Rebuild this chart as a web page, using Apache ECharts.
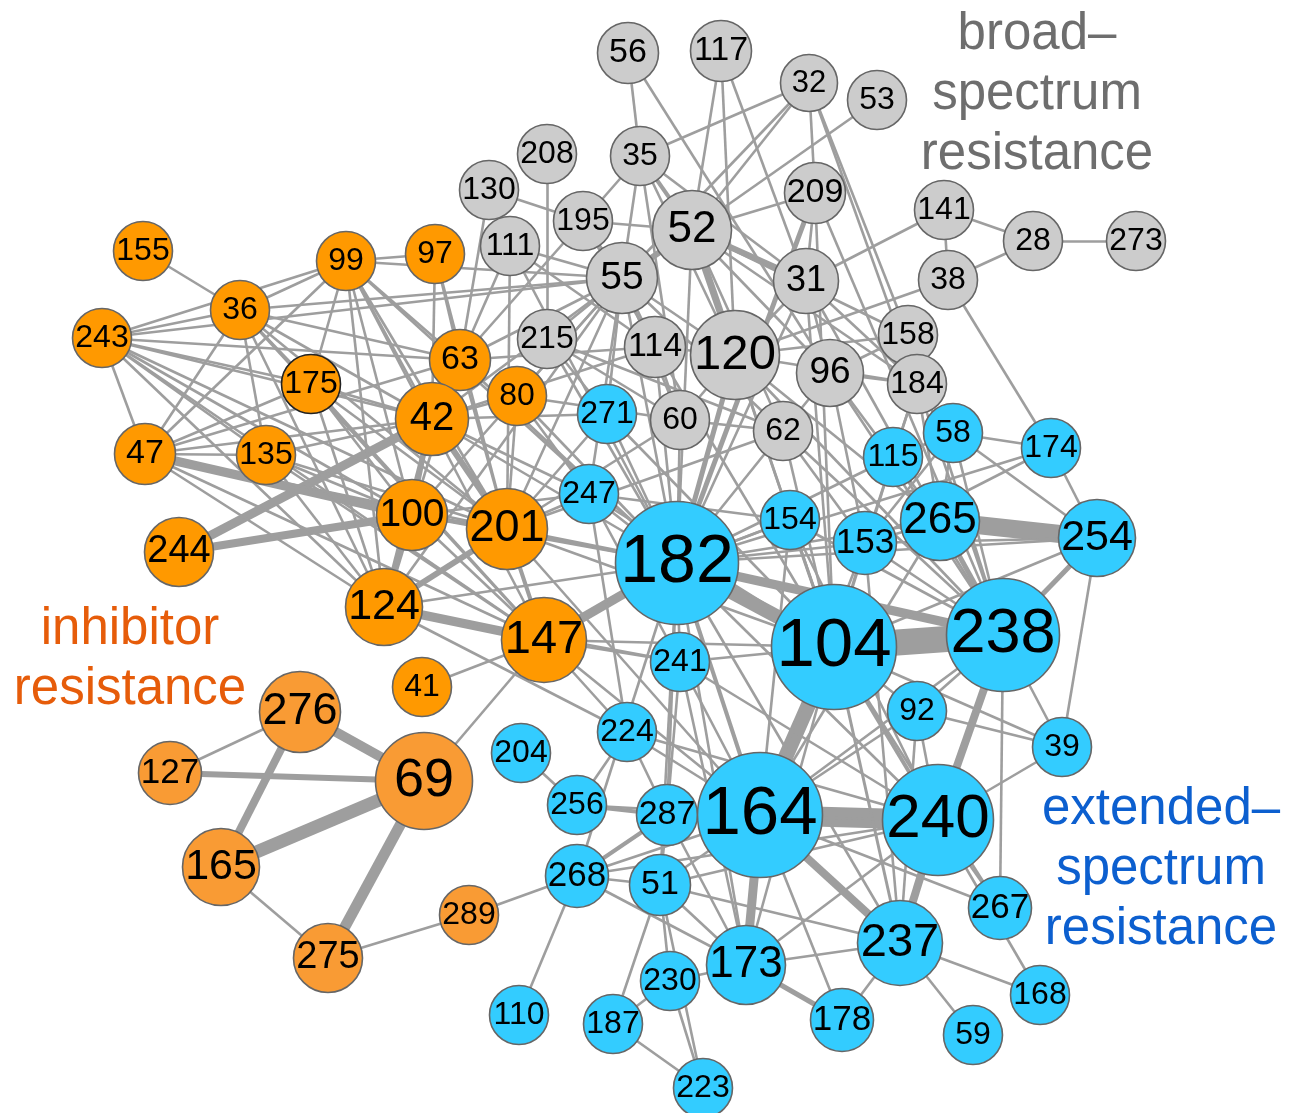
<!DOCTYPE html>
<html><head><meta charset="utf-8">
<script src="https://cdn.jsdelivr.net/npm/echarts@6/dist/echarts.min.js"></script>
<style>html,body{margin:0;padding:0;background:#fff}#c{width:1299px;height:1113px}</style>
</head><body><div id="c"></div>
<script>
// ---- node data (group: broad / inhibitor / inhibitor2 / extended) ----
const grayIds = ['56','117','32','53','35','208','130','195','111','52','209','141','28','273','55','31','38','215','114','120','158','96','184','60','62'];
const grayX = [628,721,809,877,640,547,489,583,510,692,815,944,1033,1136,622,806,948,547,655,735,908,830,917,680,783];
const grayY = [50,48,80,97,153,151,187,218,243,227,190,207,238,238,275,278,277,336,344,352,332,370,381,417,428];
const grayR = [30,30,28,29,29,29,29,29,29,39,30,29,29,29,35,32,29,29,30,44,29,33,29,29,29];

const orangeIds = ['155','36','99','97','243','175','63','80','42','47','135','100','201','244','124','147','41'];
const orangeX = [143,240,346,435,102,311,460,517,432,145,266,412,507,179,384,544,422];
const orangeY = [248,307,258,251,335,381,357,393,416,451,452,512,526,549,604,637,684];
const orangeR = [29,29,29,29,29,29,30,29,36,30,29,35,40,34,38,42,29];

const orange2Ids = ['276','127','69','165','289','275'];
const orange2X = [300,170,424,221,469,328];
const orange2Y = [709,770,778,864,912,955];
const orange2R = [40,31,48,38,29,34];

const blueIds = ['271','247','182','115','58','174','154','153','265','254','104','238','241','92','39','224','204','256','287','164','240','268','51','267','237','173','230','168','110','187','178','59','223'];
const blueX = [607,589,677,893,953,1051,790,865,940,1097,834,1003,680,917,1062,627,521,577,667,760,938,577,660,1000,900,746,670,1040,519,613,842,973,703];
const blueY = [411,491,560,454,430,445,517,540,518,535,644,632,659,708,744,729,750,802,812,812,817,873,882,905,940,962,978,992,1012,1021,1017,1032,1085];
const blueR = [29,29,61,29,29,29,29,31,39,38,62,56,29,29,29,29,29,29,30,62,55,31,30,31,42,39,29,29,29,29,31,29,29];

// ---- edges: thick weighted ones, then thin ----
const thickEdges = [
 ['104','238',26],['164','240',20],['265','254',18],['182','104',14],['104','164',15],['182','238',9],
 ['69','165',13],['69','276',10],['69','275',11],['276','165',8],['127','69',6],
 ['244','100',8],['244','42',9],['47','100',9],['124','147',9],['147','182',9],
 ['52','120',7],['55','52',6],['52','31',6],['209','182',5],['120','182',5],
 ['164','173',9],['240','238',8],['240','237',8],['164','237',8],['173','178',5],['238','254',5],['265','238',5],
 ['100','124',6],['201','124',6],['42','201',6],['42','124',5],['201','182',4],['147','201',4],['268','287',4],['256','287',4],
 ['35','52',4],['104','240',4],['182','164',4],['104','237',3],['100','201',4],['42','100',3]
];
const thinEdges = [
 '155-36','243-36','243-99','243-175','243-42','243-100','243-201','243-63','243-124','243-147','243-47','243-55','243-135',
 '36-99','36-63','36-42','36-175','36-201','36-124','36-47','36-135','36-55','36-147',
 '47-99','47-175','47-42','47-63','47-201','47-124','47-135','47-147',
 '135-201','135-124','135-42','135-100','135-147',
 '175-99','175-124','175-147','175-201','175-42','175-100',
 '99-97','99-42','99-63','99-201','99-100','99-124','99-147','99-55','99-182',
 '97-63','97-42','97-201',
 '130-195','130-63','111-63','111-201','111-55','111-182',
 '208-215','195-55','195-35','195-52','195-63',
 '55-63','55-42','55-100','55-201','55-215','55-114','55-182','55-271','55-247','55-35','55-80','55-124',
 '56-35','56-96','35-32','35-31','35-120',
 '117-52','117-31','117-120',
 '32-52','32-209','32-184','32-158','32-55',
 '53-52','209-52','209-31','209-104',
 '141-38','141-28','141-31','28-273','28-38','38-120','38-174',
 '158-120','158-96','158-52','158-238',
 '184-120','184-96','184-115','184-31','184-52','184-265','184-238',
 '58-174','58-265','58-238','58-153','58-115','58-254',
 '174-254','174-153','174-182',
 '254-39','254-104','254-182','254-153',
 '238-92','238-39','238-164','238-153','238-154','238-115','238-267',
 '92-39','240-39','104-39','164-92','104-92','164-267','240-267','237-168','237-59','164-178','173-240','173-237','92-237',
 '147-224','147-69','41-147','247-224','224-287','224-164','224-256','241-287','241-164','182-287','182-51','182-173','287-164','287-173',
 '268-164','268-51','268-289','268-110','268-182','204-256','51-230','51-187','51-223','230-187','230-223','187-223','51-173','51-240','289-275','165-275',
 '127-276','120-104','120-238','120-265','52-104','31-104','31-265','96-265','96-238','96-153','62-104','62-182','62-153','62-238','60-182','60-120',
 '114-182','114-104','215-182','271-182','209-238',
 '31-182','184-153','115-104','115-182','153-104','154-104','154-182','265-182','265-153','265-164','247-182','247-104','201-247','201-271',
 '42-271','42-182','100-182','124-182','63-182','80-182','80-247','201-104','147-104','147-164','147-241','124-241','201-164','63-201','63-42',
 '63-100','80-201','80-42','42-247','100-247','100-147','124-224',
 '52-182','52-96','52-62','31-120','31-96','96-62','62-60','114-120','114-60','215-60','215-271','215-62','55-120','55-60','55-62','35-60',
 '195-114','111-114','63-114','42-114','201-62','201-60','80-60','271-104','247-154','247-241','182-241','182-154','182-153','182-240','182-237',
 '104-173','104-267','240-92','240-154','237-153','164-153','164-154','241-104','241-173','287-240','287-51','268-173','268-240','224-240',
 '241-240','256-164','51-164','51-237','173-230','178-237','240-168'
];

// ---- build ----
const groups = [
 {ids:grayIds, x:grayX, y:grayY, r:grayR, color:'#cccccc'},
 {ids:orangeIds, x:orangeX, y:orangeY, r:orangeR, color:'#ff9900'},
 {ids:orange2Ids, x:orange2X, y:orange2Y, r:orange2R, color:'#f99b34'},
 {ids:blueIds, x:blueX, y:blueY, r:blueR, color:'#33ccff'}
];
const nodes = [];
groups.forEach(g => g.ids.forEach((id, i) => {
  const r = g.r[i];
  nodes.push({
    name: id, value: [g.x[i], g.y[i]], symbolSize: 2 * r + 1,
    itemStyle: {color: g.color, borderColor: id === '175' ? '#222' : '#666', borderWidth: 1.6},
    label: {fontSize: Math.round(r * 1.12)}
  });
}));
const links = [];
thickEdges.forEach(e => links.push({source: e[0], target: e[1], lineStyle: {width: e[2]}}));
thinEdges.forEach(s => { const p = s.split('-'); links.push({source: p[0], target: p[1], lineStyle: {width: 2.6}}); });

const chart = echarts.init(document.getElementById('c'), null, {renderer: 'canvas'});
chart.setOption({
  animation: false,
  grid: {left: 0, right: 0, top: 0, bottom: 0},
  xAxis: {type: 'value', min: 0, max: 1299, show: false},
  yAxis: {type: 'value', min: -3, max: 1110, inverse: true, show: false},
  series: [{
    type: 'graph', coordinateSystem: 'cartesian2d', layout: 'none',
    data: nodes, links: links,
    symbol: 'circle',
    label: {show: true, position: 'inside', formatter: '{b}', color: '#000', fontFamily: 'Liberation Sans, Arial, sans-serif'},
    lineStyle: {color: '#9e9e9e', opacity: 1, curveness: 0},
    emphasis: {disabled: true}
  }],
  graphic: [
    {type: 'text', style: {text: 'broad–\nspectrum\nresistance', x: 1037, y: 5, align: 'center', verticalAlign: 'top', lineHeight: 60, fontSize: 51, fontFamily: 'Liberation Sans, Arial, sans-serif', fill: '#6e6e6e'}},
    {type: 'text', style: {text: 'inhibitor\nresistance', x: 130, y: 600, align: 'center', verticalAlign: 'top', lineHeight: 60, fontSize: 51, fontFamily: 'Liberation Sans, Arial, sans-serif', fill: '#e65c0a'}},
    {type: 'text', style: {text: 'extended–\nspectrum\nresistance', x: 1161, y: 780, align: 'center', verticalAlign: 'top', lineHeight: 60, fontSize: 51, fontFamily: 'Liberation Sans, Arial, sans-serif', fill: '#0c5fcf'}}
  ]
});
</script></body></html>
